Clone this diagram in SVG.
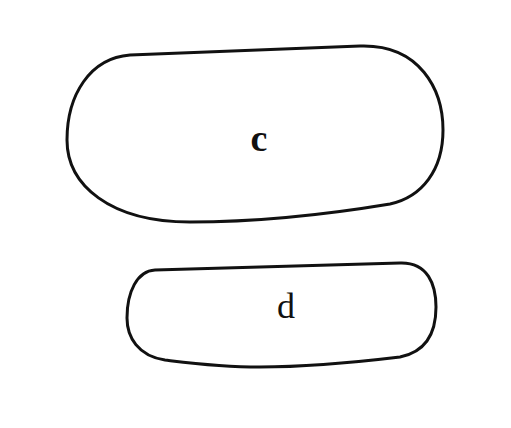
<svg xmlns="http://www.w3.org/2000/svg" width="511" height="428" viewBox="0 0 511 428">
<style>
.shape{fill:none;stroke:#111;stroke-width:3;stroke-linejoin:round;stroke-linecap:round}
.lbl{font-family:"Liberation Serif","DejaVu Serif",serif;fill:#111;text-anchor:middle}
</style>
<rect width="511" height="428" fill="#fff"/>
<g id="node-c">
<path class="shape" d="M 130,55 L 360,46 C 420,44 443,90 443,130 C 443,170 422,197 390,204 C 330,214 260,222 190,222 C 110,222 67,185 67,140 C 67,95 90,58 130,55 Z"/>
<text class="lbl" x="259" y="151" font-size="38" font-weight="bold">c</text>
</g>
<g id="node-d">
<path class="shape" d="M 155,270 L 400,263 C 428,262 436,285 436,307 C 436,335 425,352 400,357 C 350,363 300,367 260,367 C 220,367 190,363 165,360 C 138,356 127,337 127,318 C 127,292 137,271 155,270 Z"/>
<text class="lbl" x="286" y="318" font-size="36">d</text>
</g>
<g id="connectors"/>
</svg>
